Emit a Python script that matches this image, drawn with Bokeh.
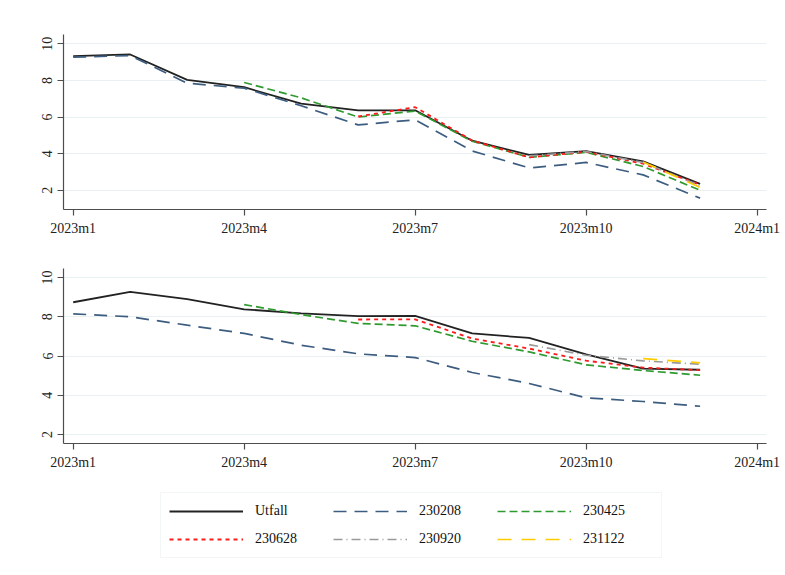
from bokeh.plotting import figure
from bokeh.layouts import column
from bokeh.models import Range1d, FixedTicker, Legend, LegendItem
from bokeh.embed import file_html
from bokeh.resources import INLINE

nan = float("nan")

# ---- data ----
months = list(range(12))  # 0 = 2023m1 ... 11 = 2023m12
x_ticks = [0, 3, 6, 9, 12]
x_tick_labels = ["2023m1", "2023m4", "2023m7", "2023m10", "2024m1"]
y_ticks = [2, 4, 6, 8, 10]

series_names = ["Utfall", "230208", "230425", "230628", "230920", "231122"]

# top panel
utfall_top = [9.33, 9.42, 8.03, 7.63, 6.73, 6.37, 6.37, 4.71, 3.93, 4.14, 3.58, 2.35]
s230208_top = [9.27, 9.36, 7.85, 7.58, 6.62, 5.57, 5.85, 4.15, 3.22, 3.52, 2.84, 1.57]
s230425_top = [nan, nan, nan, 7.89, 7.05, 6.00, 6.33, 4.68, 3.80, 4.07, 3.30, 2.00]
s230628_top = [nan, nan, nan, nan, nan, 6.03, 6.54, 4.72, 3.80, 4.10, 3.45, 2.30]
s230920_top = [nan, nan, nan, nan, nan, nan, nan, nan, 3.88, 4.12, 3.52, 2.25]
s231122_top = [nan, nan, nan, nan, nan, nan, nan, nan, nan, nan, 3.55, 2.15]

# bottom panel
utfall_bot = [8.74, 9.27, 8.90, 8.38, 8.17, 8.03, 8.05, 7.15, 6.92, 6.08, 5.36, 5.30]
s230208_bot = [8.15, 8.00, 7.57, 7.15, 6.55, 6.11, 5.92, 5.16, 4.60, 3.87, 3.68, 3.44]
s230425_bot = [nan, nan, nan, 8.62, 8.11, 7.66, 7.54, 6.75, 6.21, 5.55, 5.26, 5.02]
s230628_bot = [nan, nan, nan, nan, nan, 7.86, 7.87, 6.89, 6.38, 5.76, 5.41, 5.28]
s230920_bot = [nan, nan, nan, nan, nan, nan, nan, nan, 6.58, 6.04, 5.75, 5.58]
s231122_bot = [nan, nan, nan, nan, nan, nan, nan, nan, nan, nan, 5.87, 5.65]

top_series = [utfall_top, s230208_top, s230425_top, s230628_top, s230920_top, s231122_top]
bot_series = [utfall_bot, s230208_bot, s230425_bot, s230628_bot, s230920_bot, s231122_bot]

# ---- styles ----
styles = [
    dict(color="#222222", dash="solid", width=1.8),
    dict(color="#3d5d80", dash="13 8", width=1.7),
    dict(color="#2f9a2f", dash="8 4", width=1.7),
    dict(color="#ff1a1a", dash="4 4", width=1.8),
    dict(color="#9a9a9a", dash="9 4 1 4", width=1.6),
    dict(color="#ffcc00", dash="14 10", width=1.7),
]

FONT = "Liberation Serif"
W = 783
LEFT = 63
RIGHT = W - LEFT - 703


def make_panel(series, y_lo, y_hi, height, b_top, b_bot):
    p = figure(width=W, height=height,
               x_range=Range1d(-0.17, 12.165), y_range=Range1d(y_lo, y_hi),
               output_backend="svg", toolbar_location=None,
               min_border_left=LEFT, min_border_right=RIGHT,
               min_border_top=b_top, min_border_bottom=b_bot,
               background_fill_color="white", border_fill_color="white")
    p.outline_line_color = None
    for vals, st in zip(series, styles):
        p.line(months, vals, line_color=st["color"], line_width=st["width"],
               line_dash=st["dash"])
    p.xaxis.ticker = FixedTicker(ticks=x_ticks)
    p.xaxis.major_label_overrides = {t: l for t, l in zip(x_ticks, x_tick_labels)}
    p.yaxis.ticker = FixedTicker(ticks=y_ticks)
    p.yaxis.major_label_orientation = "vertical"
    for ax in (p.xaxis[0], p.yaxis[0]):
        ax.axis_line_color = "#4d4d4d"
        ax.axis_line_width = 1.2
        ax.major_tick_line_color = "#4d4d4d"
        ax.major_tick_line_width = 1.2
        ax.major_tick_out = 6
        ax.major_tick_in = 0
        ax.minor_tick_line_color = None
        ax.major_label_text_font = FONT
        ax.major_label_text_font_size = "14px"
        ax.major_label_text_color = "#222222"
        ax.major_label_standoff = 5
    p.xgrid.visible = False
    p.ygrid.ticker = FixedTicker(ticks=y_ticks)
    p.ygrid.grid_line_color = "#e9f0f2"
    p.ygrid.grid_line_width = 1
    return p


p_top = make_panel(top_series, 0.95, 10.51, 250, 34, 41)
p_bot = make_panel(bot_series, 1.54, 10.46, 235, 18, 42)

# legend panel (lines kept out of view; only their legend glyphs show)
p_leg = figure(width=W, height=82, output_backend="svg", toolbar_location=None,
               x_axis_location=None, y_axis_location=None,
               x_range=Range1d(100, 101), y_range=Range1d(100, 101),
               min_border_left=LEFT, min_border_right=RIGHT,
               min_border_top=0, min_border_bottom=0,
               background_fill_color="white", border_fill_color="white")
p_leg.outline_line_color = None
p_leg.grid.visible = False
item_map = {}
for name, vals, st in zip(series_names, top_series, styles):
    r = p_leg.line(months, vals, line_color=st["color"], line_width=st["width"],
                   line_dash=st["dash"])
    item_map[name] = LegendItem(label=name, renderers=[r])
# column-major fill -> rows read Utfall/230208/230425, 230628/230920/231122
order = ["Utfall", "230628", "230208", "230920", "230425", "231122"]
legend = Legend(items=[item_map[n] for n in order], ncols=3, location=(97, 9),
                glyph_width=74, glyph_height=20, label_standoff=12,
                label_width=70, label_height=20, spacing=8, padding=8,
                margin=0,
                label_text_font=FONT, label_text_font_size="14px",
                label_text_color="#111111",
                border_line_color="#e6eef0", border_line_width=1.5,
                background_fill_color="white", background_fill_alpha=1.0)
p_leg.add_layout(legend)

layout = column(p_top, p_bot, p_leg, spacing=0)
open("out.html", "w").write(file_html(layout, INLINE))
